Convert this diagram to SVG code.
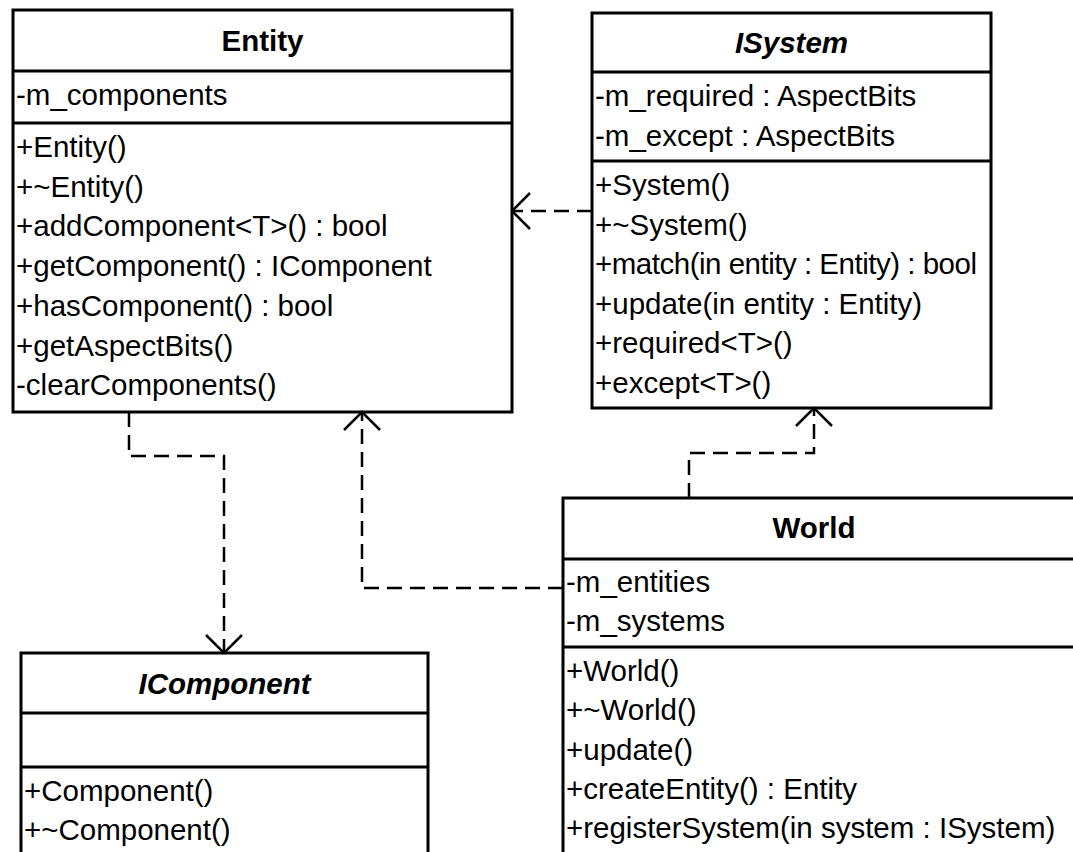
<svg xmlns="http://www.w3.org/2000/svg" width="1073" height="852" viewBox="0 0 1073 852">
  <style>
    .box { fill: #ffffff; stroke: #000000; stroke-width: 3; }
    .div { stroke: #000000; stroke-width: 3; }
    .t { font-family: "Liberation Sans", Arial, sans-serif; font-size: 29.5px; fill: #000000; }
    .title { font-weight: bold; text-anchor: middle; }
    .abstract { font-style: italic; }
    .dep { fill: none; stroke: #000000; stroke-width: 2.5; stroke-dasharray: 15 8; }
  </style>
  <defs>
    <marker id="open-arrow" markerUnits="userSpaceOnUse" markerWidth="40" markerHeight="40" viewBox="-20 -20 40 40" refX="0" refY="0" orient="auto">
      <path d="M-18,-18 L0,0 L-18,18" fill="none" stroke="#000000" stroke-width="2.5"/>
    </marker>
  </defs>

  <rect width="1073" height="852" fill="#ffffff"/>

  <!-- Entity -->
  <g id="entity">
    <rect class="box" x="13" y="10" width="499" height="402"/>
    <line class="div" x1="13" y1="71" x2="512" y2="71"/>
    <line class="div" x1="13" y1="123" x2="512" y2="123"/>
    <text class="t title" x="262.5" y="51">Entity</text>
    <text class="t" x="16" y="105">-m_components</text>
    <text class="t" x="16" y="157">+Entity()</text>
    <text class="t" x="16" y="196.7">+~Entity()</text>
    <text class="t" x="16" y="236.4">+addComponent&lt;T&gt;() : bool</text>
    <text class="t" x="16" y="276">+getComponent() : IComponent</text>
    <text class="t" x="16" y="315.8">+hasComponent() : bool</text>
    <text class="t" x="16" y="355.5">+getAspectBits()</text>
    <text class="t" x="16" y="395">-clearComponents()</text>
  </g>

  <!-- ISystem -->
  <g id="isystem">
    <rect class="box" x="592" y="13" width="399" height="395"/>
    <line class="div" x1="592" y1="72" x2="991" y2="72"/>
    <line class="div" x1="592" y1="161" x2="991" y2="161"/>
    <text class="t title abstract" x="791.5" y="53">ISystem</text>
    <text class="t" x="595" y="106">-m_required : AspectBits</text>
    <text class="t" x="595" y="146">-m_except : AspectBits</text>
    <text class="t" x="595" y="195">+System()</text>
    <text class="t" x="595" y="234.5">+~System()</text>
    <text class="t" x="595" y="274" textLength="382" lengthAdjust="spacing">+match(in entity : Entity) : bool</text>
    <text class="t" x="595" y="313.5">+update(in entity : Entity)</text>
    <text class="t" x="595" y="353">+required&lt;T&gt;()</text>
    <text class="t" x="595" y="392.5">+except&lt;T&gt;()</text>
  </g>

  <!-- IComponent -->
  <g id="icomponent">
    <rect class="box" x="21" y="653" width="407" height="260"/>
    <line class="div" x1="21" y1="713" x2="428" y2="713"/>
    <line class="div" x1="21" y1="767" x2="428" y2="767"/>
    <text class="t title abstract" x="224.5" y="694">IComponent</text>
    <text class="t" x="24" y="801">+Component()</text>
    <text class="t" x="24" y="840">+~Component()</text>
  </g>

  <!-- World -->
  <g id="world">
    <rect class="box" x="563" y="498" width="560" height="420"/>
    <line class="div" x1="563" y1="559" x2="1123" y2="559"/>
    <line class="div" x1="563" y1="647" x2="1123" y2="647"/>
    <text class="t title" x="814" y="538">World</text>
    <text class="t" x="566" y="592">-m_entities</text>
    <text class="t" x="566" y="631">-m_systems</text>
    <text class="t" x="566" y="681">+World()</text>
    <text class="t" x="566" y="720">+~World()</text>
    <text class="t" x="566" y="760">+update()</text>
    <text class="t" x="566" y="799">+createEntity() : Entity</text>
    <text class="t" x="566" y="838">+registerSystem(in system : ISystem)</text>
  </g>

  <!-- Dependencies -->
  <g id="connectors">
    <path class="dep" d="M592,211 H512" marker-end="url(#open-arrow)"/>
    <path class="dep" d="M129,412 V456 H224 V653" marker-end="url(#open-arrow)"/>
    <path class="dep" d="M563,588 H362 V412" marker-end="url(#open-arrow)"/>
    <path class="dep" d="M689,498 V453 H814 V408" marker-end="url(#open-arrow)"/>
  </g>
</svg>
